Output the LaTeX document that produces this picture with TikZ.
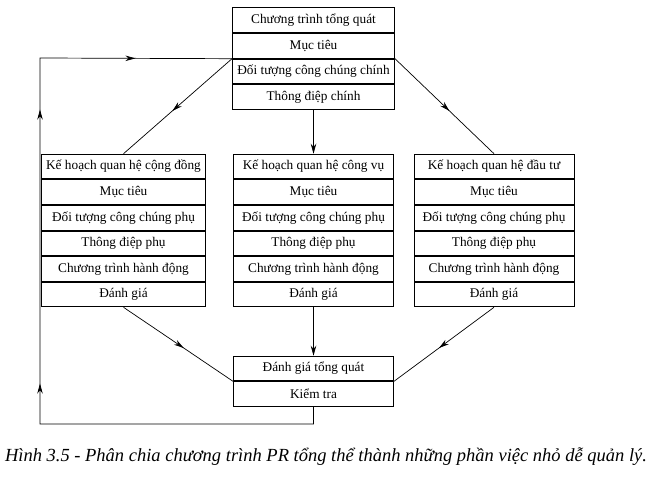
\documentclass[tikz,border=0pt]{standalone}
\usepackage{fontspec}
\setmainfont{Liberation Serif}
\usetikzlibrary{arrows.meta,positioning,decorations.markings}

\begin{document}
\begin{tikzpicture}[
    x=1pt, y=-1pt,
    >={Stealth[length=10pt,width=5.5pt]},
    cell/.style={
        rectangle,
        draw=black,
        line width=1pt,
        minimum width=162pt,
        minimum height=24.6pt,
        inner sep=1pt,
        font=\fontsize{13.3}{15}\selectfont
    },
    link/.style={line width=0.7pt},
    midarrow/.style={
        link,
        postaction={decorate},
        decoration={markings, mark=at position 0.55 with {\arrow{>}}}
    }
]
\useasboundingbox (0,0) rectangle (652,476);

% Overall programme (top)
\node[cell] (t1) at (313.5,20.3) {Chương trình tổng quát};
\node[cell, below=0pt of t1] (t2) {Mục tiêu};
\node[cell, below=0pt of t2] (t3) {Đối tượng công chúng chính};
\node[cell, below=0pt of t3] (t4) {Thông điệp chính};

% Community relations plan (left)
\node[cell, minimum width=164pt] (l1) at (123.5,166.5) {Kế hoạch quan hệ cộng đồng};
\node[cell, minimum width=164pt, below=0pt of l1] (l2) {Mục tiêu};
\node[cell, minimum width=164pt, below=0pt of l2] (l3) {Đối tượng công chúng phụ};
\node[cell, minimum width=164pt, below=0pt of l3] (l4) {Thông điệp phụ};
\node[cell, minimum width=164pt, below=0pt of l4] (l5) {Chương trình hành động};
\node[cell, minimum width=164pt, below=0pt of l5] (l6) {Đánh giá};

% Public affairs plan (centre)
\node[cell, minimum width=160pt] (c1) at (313.5,166.5) {Kế hoạch quan hệ công vụ};
\node[cell, minimum width=160pt, below=0pt of c1] (c2) {Mục tiêu};
\node[cell, minimum width=160pt, below=0pt of c2] (c3) {Đối tượng công chúng phụ};
\node[cell, minimum width=160pt, below=0pt of c3] (c4) {Thông điệp phụ};
\node[cell, minimum width=160pt, below=0pt of c4] (c5) {Chương trình hành động};
\node[cell, minimum width=160pt, below=0pt of c5] (c6) {Đánh giá};

% Investor relations plan (right)
\node[cell, minimum width=160pt] (r1) at (494,166.5) {Kế hoạch quan hệ đầu tư};
\node[cell, minimum width=160pt, below=0pt of r1] (r2) {Mục tiêu};
\node[cell, minimum width=160pt, below=0pt of r2] (r3) {Đối tượng công chúng phụ};
\node[cell, minimum width=160pt, below=0pt of r3] (r4) {Thông điệp phụ};
\node[cell, minimum width=160pt, below=0pt of r4] (r5) {Chương trình hành động};
\node[cell, minimum width=160pt, below=0pt of r5] (r6) {Đánh giá};

% Overall evaluation (bottom)
\node[cell, minimum width=160pt] (b1) at (313.5,368.5) {Đánh giá tổng quát};
\node[cell, minimum width=160pt, below=0pt of b1] (b2) {Kiểm tra};

% top -> plans
\draw[midarrow] (t2.south west) -- (l1.north);
\draw[link,->] (t4.south) -- (c1.north);
\draw[midarrow] (t2.south east) -- (r1.north);

% plans -> evaluation
\draw[midarrow] (l6.south) -- (b1.south west);
\draw[link,->] (c6.south) -- (b1.north);
\draw[midarrow] (r6.south) -- (b1.south east);

% feedback loop
\coordinate (loopbl) at (40,424);
\coordinate (looptl) at (40,58);
\draw[link, postaction={decorate},
      decoration={markings,
        mark=at position 331pt with {\arrow{>}},
        mark=at position 605pt with {\arrow{>}},
        mark=at position 752pt with {\arrow{>}}}]
  (b2.south) |- (loopbl) -- (looptl) -- (t2.south west);

\node[font=\fontsize{18.5}{22}\selectfont\itshape] (caption) at (326,457)
  {Hình 3.5 - Phân chia chương trình PR tổng thể thành những phần việc nhỏ dễ quản lý.};

\end{tikzpicture}
\end{document}
